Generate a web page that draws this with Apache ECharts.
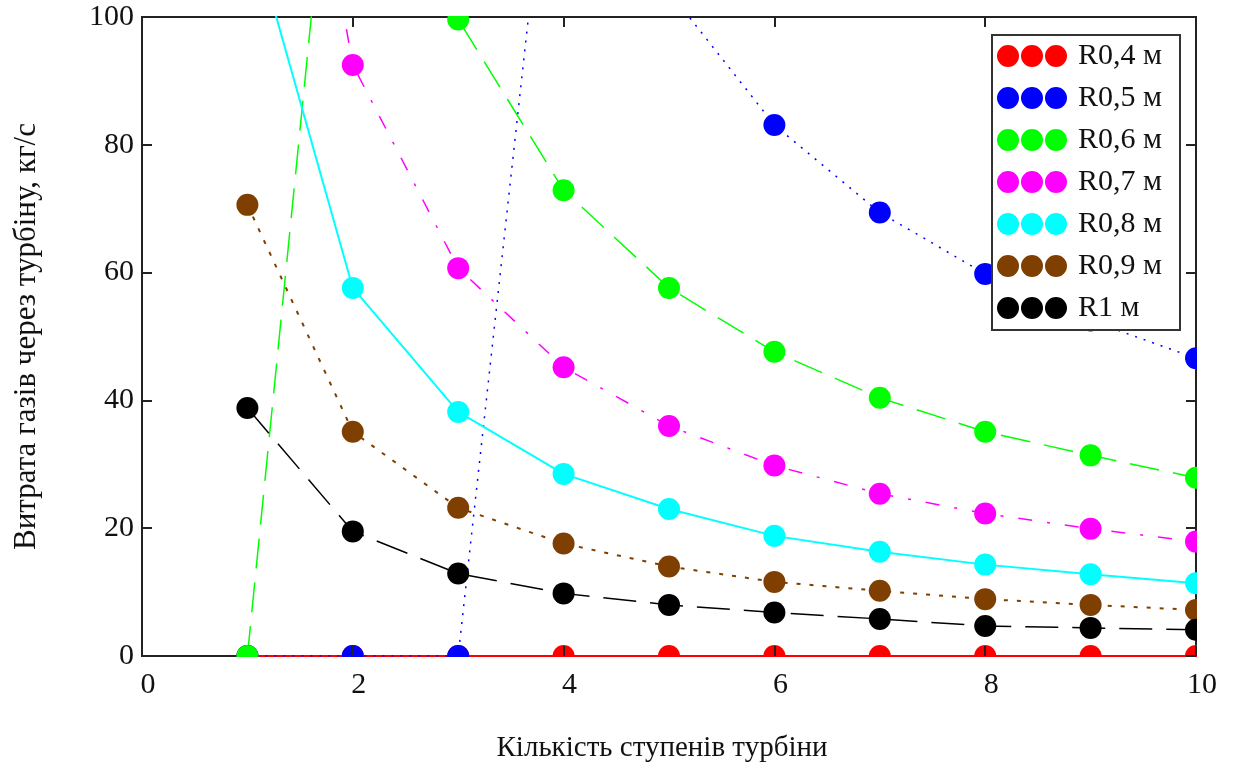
<!DOCTYPE html>
<html>
<head>
<meta charset="utf-8">
<script src="https://cdn.jsdelivr.net/npm/echarts@6/dist/echarts.min.js"></script>
<style>
  html, body { margin: 0; padding: 0; background: #fff; }
  #chart { width: 1235px; height: 771px; }
</style>
</head>
<body>
<div id="chart"></div>
<script>
// кількість ступенів
const steps = [1, 2, 3, 4, 5, 6, 7, 8, 9, 10]
const seriesNames = ['R0,4 м', 'R0,5 м', 'R0,6 м', 'R0,7 м', 'R0,8 м', 'R0,9 м', 'R1 м']
const r04 = [0, 0, 0, 0, 0, 0, 0, 0, 0, 0]
const r05 = [0, 0, 0, 150, 104, 83.1, 69.4, 59.8, 52.5, 46.6]
const r06 = [0, 165, 99.6, 72.9, 57.6, 47.6, 40.4, 35.1, 31.4, 27.9]
const r07 = [185, 92.5, 60.7, 45.2, 36.0, 29.8, 25.4, 22.3, 19.9, 17.9]
const r08 = [116, 57.6, 38.2, 28.5, 23.0, 18.8, 16.3, 14.3, 12.8, 11.4]
const r09 = [70.6, 35.1, 23.2, 17.6, 14.0, 11.6, 10.2, 8.9, 8.0, 7.2]
const r1 = [38.8, 19.5, 12.9, 9.8, 8.0, 6.8, 5.8, 4.7, 4.4, 4.1]
const xTicks = [0, 2, 4, 6, 8, 10]
const yTicks = [0, 20, 40, 60, 80, 100]

const values = [r04, r05, r06, r07, r08, r09, r1]
const colors = ['#ff0000', '#0000ff', '#00ff00', '#ff00ff', '#00ffff', '#7f3f00', '#000000']
const lineTypes = ['solid', [2, 7], [30, 14], [14, 15, 3, 15], 'solid', [4, 9], [33, 14]]
const lineWidths = [2, 1.5, 1.5, 1.5, 2, 2, 1.5]

const W = 1235, H = 771
const GRID = { left: 142, right: 39, top: 17, bottom: 115 }
const FONT = 'Liberation Serif'

// три кружки в легенді
const legendIcon = 'path://M0,11a11,11 0 1,0 22,0a11,11 0 1,0 -22,0' +
  'M24,11a11,11 0 1,0 22,0a11,11 0 1,0 -22,0' +
  'M48,11a11,11 0 1,0 22,0a11,11 0 1,0 -22,0'

const chart = echarts.init(document.getElementById('chart'))

const series = values.map((v, i) => ({
  name: seriesNames[i],
  type: 'line',
  data: steps.map((s, j) => [s, v[j]]),
  xAxisIndex: 0,
  yAxisIndex: 0,
  symbol: 'circle',
  symbolSize: 22,
  clip: true,
  itemStyle: { color: colors[i] },
  lineStyle: { color: colors[i], width: lineWidths[i], type: lineTypes[i] },
  emphasis: { disabled: true }
}))

const tick = { inside: true, length: 10, lineStyle: { color: '#222', width: 2 } }
const noLine = { show: false, onZero: false }
const baseX = {
  type: 'value', min: xTicks[0], max: xTicks[xTicks.length - 1], interval: xTicks[1] - xTicks[0],
  splitLine: { show: false }, axisLine: noLine, axisTick: tick, z: 60
}
const baseY = {
  type: 'value', min: yTicks[0], max: yTicks[yTicks.length - 1], interval: yTicks[1] - yTicks[0],
  splitLine: { show: false }, axisLine: noLine, axisTick: tick, z: 60
}

// білі смуги за межами поля графіка, щоб обрізати маркери як в оригіналі
const plotRight = W - GRID.right
const plotBottom = H - GRID.bottom
const masks = [
  { type: 'rect', shape: { x: 0, y: plotBottom + 1, width: W, height: 13 } },
  { type: 'rect', shape: { x: plotRight + 1, y: 0, width: W - plotRight, height: H } },
  { type: 'rect', shape: { x: GRID.left, y: 0, width: W - GRID.left, height: GRID.top - 1 } }
].map(r => ({ ...r, z: 50, silent: true, style: { fill: '#fff' } }))

chart.setOption({
  animation: false,
  backgroundColor: '#fff',
  grid: {
    left: GRID.left, right: GRID.right, top: GRID.top, bottom: GRID.bottom,
    show: true, borderColor: '#222', borderWidth: 2, backgroundColor: 'transparent'
  },
  legend: {
    orient: 'vertical',
    left: 992,
    top: 35,
    padding: [6, 18, 7, 5],
    itemWidth: 70,
    itemHeight: 22,
    itemGap: 12,
    backgroundColor: '#fff',
    borderColor: '#333',
    borderWidth: 2,
    z: 70,
    textStyle: { fontFamily: FONT, fontSize: 30, color: '#111', padding: [0, 0, 0, 6] },
    data: seriesNames.map(n => ({ name: n, icon: legendIcon }))
  },
  xAxis: [
    {
      ...baseX,
      position: 'bottom',
      axisLabel: { fontFamily: FONT, fontSize: 30, color: '#111', margin: 14, padding: [0, 0, 0, 12] },
      name: 'Кількість ступенів турбіни',
      nameLocation: 'middle',
      nameGap: 78,
      nameTextStyle: { fontFamily: FONT, fontSize: 29, color: '#111', padding: [0, 14, 0, 0] }
    },
    { ...baseX, position: 'top', axisLabel: { show: false } }
  ],
  yAxis: [
    {
      ...baseY,
      position: 'left',
      axisLabel: { fontFamily: FONT, fontSize: 30, color: '#111', margin: 8 },
      name: 'Витрата газів через турбіну, кг/с',
      nameLocation: 'middle',
      nameGap: 100,
      nameTextStyle: { fontFamily: FONT, fontSize: 31, color: '#111' }
    },
    { ...baseY, position: 'right', axisLabel: { show: false } }
  ],
  graphic: masks,
  series
})
</script>
</body>
</html>
